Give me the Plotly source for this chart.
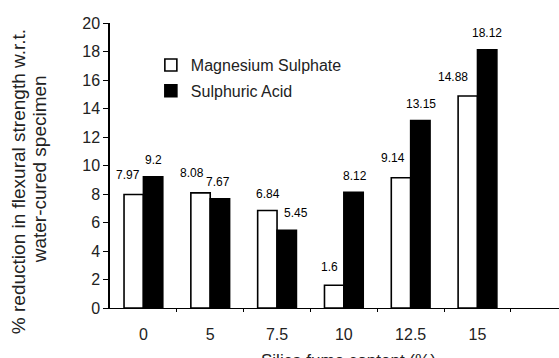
import plotly.graph_objects as go

categories = ["0", "5", "7.5", "10", "12.5", "15"]
mg_sulphate = [7.97, 8.08, 6.84, 1.6, 9.14, 14.88]
sulphuric_acid = [9.2, 7.67, 5.45, 8.12, 13.15, 18.12]
y_ticks = list(range(0, 21, 2))

# label offsets (pixels) relative to bar top centre
mg_dx = [-6, -9, 1, -5, -8, -15]
mg_dy = [19, 20, 17, 18, 20, 19]
ac_dx = [0, -2, 9, 1, 1, 0]
ac_dy = [17, 17, 17, 16, 17, 17]

FONT = "Liberation Sans, Arial, sans-serif"
xs = list(range(len(categories)))
bargap = 0.42
bw = (1 - bargap) / 2

fig = go.Figure()
fig.add_trace(go.Bar(
    x=xs, y=mg_sulphate, name="Magnesium Sulphate", legendgroup="mg",
    marker=dict(color="white", line=dict(color="black", width=1.6)),
))
fig.add_trace(go.Bar(
    x=xs, y=sulphuric_acid, name="Sulphuric Acid", legendgroup="ac",
    marker=dict(color="black", line=dict(color="black", width=1.6)),
))

annotations = []
for i, v in enumerate(mg_sulphate):
    annotations.append(dict(x=i - bw / 2, y=v, xref="x", yref="y", text=f"{v:g}",
                            showarrow=False, xshift=mg_dx[i], yshift=mg_dy[i],
                            font=dict(size=12, color="black", family=FONT)))
for i, v in enumerate(sulphuric_acid):
    annotations.append(dict(x=i + bw / 2, y=v, xref="x", yref="y", text=f"{v:g}",
                            showarrow=False, xshift=ac_dx[i], yshift=ac_dy[i],
                            font=dict(size=12, color="black", family=FONT)))

# y-axis title (two lines)
annotations.append(dict(x=-0.205, y=0.445, xref="paper", yref="paper",
                        text="% reduction in flexural strength w.r.t.", textangle=-90,
                        showarrow=False, xanchor="center", yanchor="middle",
                        font=dict(size=19, color="#222", family=FONT)))
annotations.append(dict(x=-0.158, y=0.487, xref="paper", yref="paper",
                        text="water-cured specimen", textangle=-90,
                        showarrow=False, xanchor="center", yanchor="middle",
                        font=dict(size=19, color="#222", family=FONT)))
# x-axis title (cut off at the bottom in the reference)
annotations.append(dict(x=(348 - 110) / 449, y=-0.145, xref="paper", yref="paper",
                        text="Silica fume content (%)", showarrow=False,
                        xanchor="center", yanchor="top",
                        font=dict(size=17, color="#222", family=FONT)))

fig.update_layout(
    width=559, height=358,
    margin=dict(l=110, r=0, t=23, b=50),
    paper_bgcolor="white", plot_bgcolor="white",
    barmode="group", bargap=bargap, bargroupgap=0,
    font=dict(family=FONT, color="#222", size=16),
    showlegend=True,
    legend=dict(x=0.091, y=0.912, xanchor="left", yanchor="top",
                bgcolor="rgba(0,0,0,0)", font=dict(size=16, family=FONT),
                itemwidth=30, tracegroupgap=2),
    annotations=annotations,
    xaxis=dict(
        range=[-0.5, 6.22], tickmode="array", tickvals=xs, ticktext=categories,
        ticks="", showline=True, linecolor="black", linewidth=1.2,
        showgrid=False, zeroline=False, ticklabelstandoff=12,
        tickfont=dict(size=16, family=FONT, color="#222"),
        minor=dict(tickmode="array", tickvals=[k + 0.5 for k in range(6)],
                   ticks="outside", ticklen=3, tickcolor="black", showgrid=False),
    ),
    yaxis=dict(
        range=[0, 20], tickmode="array", tickvals=y_ticks,
        ticks="outside", ticklen=5, tickcolor="black", tickwidth=1.2,
        showline=True, linecolor="black", linewidth=1.5,
        showgrid=False, zeroline=False,
        tickfont=dict(size=16, family=FONT, color="#222"),
    ),
)

fig.write_html("out.html")
